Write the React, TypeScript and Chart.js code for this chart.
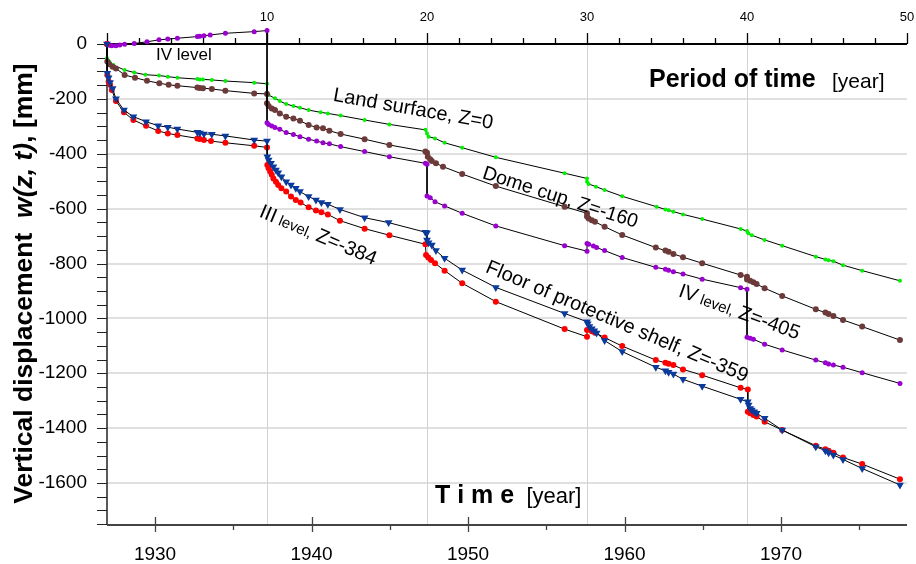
import React, { useEffect, useRef } from 'react';
import { Chart, registerables } from 'chart.js';

Chart.register(...registerables);

const FONT = '"Liberation Sans", Arial, Helvetica, sans-serif';

// ---- Period of time t [year] (top axis) and displacement w [mm] ----
const landT = [0, 0, 0.15, 0.4, 1.1, 1.7, 2.4, 3.25, 3.8, 4.4, 5.65, 5.8, 6.0, 6.55, 7.4, 9.2, 10.0,
  10.0, 10.1, 10.5, 10.8, 11.2, 11.65, 12.06, 12.6, 13.35, 13.8, 14.6, 16.1, 17.65, 19.9,
  20.0, 20.1, 20.5, 21.1, 22.2, 24.3, 28.6, 30.0,
  30.0, 30.1, 30.56, 31.1, 32.2, 34.35, 34.9, 35.1, 35.4, 36.0, 37.2, 39.6, 40.0,
  40.08, 40.3, 41.1, 42.2, 44.3, 44.9, 45.1, 45.4, 46.0, 47.2, 49.56];
const landW = [0, -52, -65, -77, -95, -104, -112, -115, -119, -123, -128, -129, -129, -131, -135, -141, -145,
  -177, -186, -198, -208, -219, -226, -232, -241, -249, -253, -261, -277, -293, -313,
  -326, -338, -344, -360, -378, -413, -471, -490,
  -502, -510, -520, -532, -555, -593, -603, -606, -611, -621, -638, -674, -682,
  -690, -697, -714, -735, -775, -785, -788, -792, -806, -826, -863];

const domeT = [0, 0.02, 0.15, 0.35, 0.56, 1.1, 1.75, 2.5, 3.27, 3.85, 4.4, 5.65, 5.8, 6.0, 6.55, 7.4, 9.2, 10.0,
  10.0, 10.1, 10.3, 10.5, 10.8, 11.2, 11.65, 12.06, 12.6, 13.1, 13.5, 13.9, 14.6, 16.1, 17.65, 19.9, 20.0,
  20.05, 20.2, 20.3, 20.56, 21.0, 22.2, 24.3, 28.6, 30.0,
  30.0, 30.1, 30.3, 30.5, 31.1, 32.2, 34.3, 34.9, 35.1, 35.4, 36.0, 37.2, 39.6, 40.0,
  40.0, 40.2, 40.4, 40.6, 41.1, 42.2, 44.3, 44.9, 45.1, 45.4, 46.0, 47.2, 49.56];
const domeW = [0, -64, -74, -83, -89, -113, -123, -134, -143, -149, -152, -159, -160, -161, -164, -170, -180, -182,
  -216, -226, -235, -241, -253, -265, -272, -280, -295, -304, -307, -316, -328, -347, -368, -392, -396,
  -411, -420, -426, -435, -447, -474, -518, -593, -617,
  -629, -636, -642, -648, -666, -696, -742, -753, -757, -765, -777, -799, -842, -848,
  -858, -863, -868, -875, -890, -918, -967, -979, -984, -991, -1006, -1030, -1079];

const level4T = [0, 0.15, 0.3, 0.56, 0.8, 1.1, 1.7, 2.5, 3.25, 3.8, 4.4, 5.65, 5.8, 6.06, 6.45, 7.4, 9.2, 10.0,
  10.0, 10.1, 10.3, 10.5, 10.8, 11.2, 11.65, 12.06, 12.6, 13.1, 13.5, 13.9, 14.6, 16.1, 17.65, 19.9, 20.0,
  20.0, 20.2, 20.5, 21.1, 22.2, 24.3, 28.6, 30.0,
  30.0, 30.1, 30.4, 30.6, 31.1, 32.2, 34.3, 34.9, 35.1, 35.4, 36.0, 37.2, 39.6, 40.0,
  40.0, 40.2, 40.4, 41.1, 42.2, 44.3, 44.9, 45.1, 45.4, 46.0, 47.2, 49.56];
const level4W = [0, -5, -6, -6, -4, -1, 2, 8, 15, 18, 21, 27, 28, 30, 33, 39, 45, 49,
  -287, -293, -299, -304, -311, -323, -330, -338, -347, -354, -360, -364, -374, -392, -411, -435, -438,
  -554, -560, -575, -590, -617, -663, -735, -755,
  -727, -730, -736, -742, -753, -778, -814, -821, -825, -830, -838, -857, -888, -894,
  -1069, -1072, -1076, -1094, -1115, -1152, -1162, -1166, -1170, -1178, -1198, -1237];

const level3T = [0, 0.02, 0.1, 0.19, 0.3, 0.56, 1.06, 1.65, 2.44, 3.2, 3.8, 4.4, 5.65, 5.8, 6.06, 6.5, 7.4, 9.2, 10.0,
  10.02, 10.1, 10.2, 10.3, 10.4, 10.56, 10.7, 10.9, 11.2, 11.5, 11.8, 12.1, 12.6, 13.06, 13.4, 13.8, 14.56, 16.1, 17.65, 19.9,
  19.94, 20.08, 20.25, 20.5, 21.1, 22.2, 24.3, 28.6, 30.0,
  30.0, 30.3, 30.5, 31.1, 32.2, 34.3, 34.9, 35.1, 35.4, 36.0, 37.2, 39.6, 40.05,
  40.05, 40.2, 40.4, 40.6, 41.1, 42.2, 44.3, 44.9, 45.1, 45.4, 46.0, 47.2, 49.56];
const level3W = [0, -113, -137, -149, -168, -208, -249, -277, -298, -317, -326, -332, -344, -346, -350, -354, -360, -371, -377,
  -441, -453, -465, -477, -490, -502, -514, -526, -538, -556, -569, -578, -595, -607, -613, -621, -644, -673, -697, -730,
  -769, -778, -787, -799, -826, -872, -939, -1039, -1067,
  -1042, -1047, -1052, -1070, -1101, -1152, -1162, -1165, -1170, -1186, -1207, -1253, -1259,
  -1340, -1346, -1352, -1358, -1377, -1407, -1464, -1477, -1482, -1490, -1507, -1531, -1586];

const shelfT = [0, 0.02, 0.1, 0.19, 0.35, 0.56, 1.06, 1.65, 2.44, 3.2, 3.8, 4.4, 5.65, 5.8, 6.06, 6.55, 7.4, 9.2, 10.0,
  10.02, 10.1, 10.25, 10.4, 10.56, 10.7, 10.9, 11.2, 11.5, 11.8, 12.06, 12.6, 13.06, 13.4, 13.8, 14.56, 16.1, 17.6, 19.9, 20.0,
  20.0, 20.1, 20.3, 20.56, 21.1, 22.2, 24.3, 28.6, 30.0,
  30.05, 30.15, 30.3, 30.45, 30.6, 31.1, 32.2, 34.3, 34.9, 35.1, 35.4, 36.0, 37.2, 39.6, 40.05,
  40.1, 40.2, 40.3, 40.45, 40.6, 41.1, 42.2, 44.3, 44.9, 45.1, 45.4, 46.0, 47.2, 49.56];
const shelfW = [0, -107, -123, -140, -162, -200, -241, -265, -283, -298, -303, -310, -322, -324, -328, -329, -335, -350, -354,
  -411, -423, -435, -447, -459, -469, -484, -502, -514, -526, -538, -556, -569, -578, -584, -603, -633, -651, -686, -688,
  -714, -724, -733, -753, -781, -824, -887, -982, -1012,
  -1020, -1030, -1038, -1045, -1053, -1081, -1121, -1178, -1191, -1196, -1203, -1222, -1247, -1295, -1304,
  -1316, -1328, -1334, -1340, -1346, -1364, -1407, -1468, -1482, -1490, -1498, -1514, -1547, -1607];

// ---- axes ----
const yearMin = 1926.93;
const yearMax = 1978.05;
const yearTicks = [1930, 1940, 1950, 1960, 1970];
const periodMin = 0;
const periodMax = 50;
const periodTicks = [10, 20, 30, 40, 50];
const periodGrid = [10, 20, 30, 40];
const wMin = -1753;
const wMax = 69.2;
const wTicks = [0, -200, -400, -600, -800, -1000, -1200, -1400, -1600];

type Part = { text: string; size: number; weight?: string; style?: string };
type Note = { parts: Part[]; t: number; w: number; angle: number };

const notes: Note[] = [
  { parts: [{ text: 'IV level', size: 17 }], t: 3.06, w: -58, angle: 0 },
  { parts: [{ text: 'Land surface, Z=0', size: 20 }], t: 14.1, w: -207, angle: 10 },
  { parts: [{ text: 'Dome cup, Z=-160', size: 19.5 }], t: 23.4, w: -488, angle: 18 },
  { parts: [{ text: 'III', size: 20 }, { text: ' level,', size: 15 }, { text: ' Z=-384', size: 20 }], t: 9.45, w: -628, angle: 23 },
  { parts: [{ text: 'Floor of protective shelf, Z=-359', size: 20 }], t: 23.6, w: -830, angle: 23 },
  { parts: [{ text: 'IV', size: 20 }, { text: ' level,', size: 15 }, { text: ' Z=-405', size: 20 }], t: 35.65, w: -918, angle: 20 },
];

const pts = (t: number[], w: number[]) => t.map((x, i) => ({ x, y: w[i] }));

function fontStr(p: Part) {
  return `${p.style || 'normal'} ${p.weight || 'normal'} ${p.size}px ${FONT}`;
}

function drawParts(ctx: CanvasRenderingContext2D, parts: Part[], x0: number) {
  let x = x0;
  for (const p of parts) {
    ctx.font = fontStr(p);
    ctx.fillText(p.text, x, 0);
    x += ctx.measureText(p.text).width;
  }
}
function partsWidth(ctx: CanvasRenderingContext2D, parts: Part[]) {
  let w = 0;
  for (const p of parts) {
    ctx.font = fontStr(p);
    w += ctx.measureText(p.text).width;
  }
  return w;
}

const noPad = (s: any) => {
  s.paddingLeft = 0;
  s.paddingRight = 0;
  s.paddingTop = 0;
  s.paddingBottom = 0;
};
const fixTicks = (values: number[]) => (s: any) => {
  s.ticks = values.map((value) => ({ value }));
};

const axesPlugin = {
  id: 'customAxes',
  beforeDatasetsDraw(chart: any) {
    const { ctx, chartArea } = chart;
    const { left, right, bottom } = chartArea;
    const xs = chart.scales.x;
    const xb = chart.scales.x2;
    const ys = chart.scales.y;
    const zeroY = Math.round(ys.getPixelForValue(0));
    ctx.save();
    // vertical grid lines at 10..40 of period axis
    ctx.strokeStyle = '#d2d2d2';
    ctx.lineWidth = 1;
    ctx.beginPath();
    for (const t of periodGrid) {
      const px = Math.round(xs.getPixelForValue(t)) + 0.5;
      ctx.moveTo(px, zeroY);
      ctx.lineTo(px, bottom);
    }
    ctx.stroke();
    // left axis + ticks
    ctx.strokeStyle = '#222';
    ctx.lineWidth = 1.5;
    ctx.beginPath();
    ctx.moveTo(left, zeroY);
    ctx.lineTo(left, bottom);
    ctx.stroke();
    ctx.lineWidth = 1.2;
    ctx.beginPath();
    for (let v = 0; v >= wMin; v -= 50) {
      const py = Math.round(ys.getPixelForValue(v)) + 0.5;
      ctx.moveTo(left - 10, py);
      ctx.lineTo(left, py);
    }
    ctx.stroke();
    // bottom axis + ticks
    ctx.strokeStyle = '#444';
    ctx.lineWidth = 2;
    ctx.beginPath();
    ctx.moveTo(left, bottom);
    ctx.lineTo(right, bottom);
    ctx.stroke();
    ctx.lineWidth = 1.3;
    ctx.beginPath();
    for (let yr = 1930; yr <= yearMax; yr += 5) {
      const px = Math.round(xb.getPixelForValue(yr)) + 0.5;
      if (yr % 10 === 0) {
        ctx.moveTo(px, bottom - 8);
        ctx.lineTo(px, bottom + 7);
      } else {
        ctx.moveTo(px, bottom);
        ctx.lineTo(px, bottom + 5);
      }
    }
    ctx.stroke();
    // top (period) axis at w = 0 + ticks
    ctx.strokeStyle = '#000';
    ctx.lineWidth = 2;
    ctx.beginPath();
    ctx.moveTo(left, zeroY);
    ctx.lineTo(right, zeroY);
    ctx.stroke();
    ctx.lineWidth = 1.3;
    ctx.beginPath();
    for (let t = periodMin; t <= periodMax; t += 2) {
      const px = Math.round(xs.getPixelForValue(t)) + 0.5;
      const len = t % 10 === 0 ? 11 : 6;
      ctx.moveTo(px, zeroY - len);
      ctx.lineTo(px, zeroY);
    }
    ctx.stroke();
    ctx.restore();
  },
  afterDraw(chart: any) {
    const { ctx, chartArea } = chart;
    const xs = chart.scales.x;
    const ys = chart.scales.y;
    const zeroY = ys.getPixelForValue(0);
    ctx.save();
    ctx.fillStyle = '#000';
    ctx.textBaseline = 'alphabetic';
    ctx.textAlign = 'left';
    for (const n of notes) {
      ctx.save();
      ctx.translate(xs.getPixelForValue(n.t), ys.getPixelForValue(n.w));
      ctx.rotate((n.angle * Math.PI) / 180);
      drawParts(ctx, n.parts, 0);
      ctx.restore();
    }
    // y-axis title
    const yTitle: Part[] = [
      { text: 'Vertical displacement  ', size: 26.5, weight: 'bold' },
      { text: 'w(z, t)', size: 26.5, weight: 'bold', style: 'italic' },
      { text: ', [mm]', size: 26.5, weight: 'bold' },
    ];
    ctx.save();
    ctx.translate(32, (zeroY + chartArea.bottom) / 2 - 1);
    ctx.rotate(-Math.PI / 2);
    drawParts(ctx, yTitle, -partsWidth(ctx, yTitle) / 2);
    ctx.restore();
    // Period of time title (top right)
    ctx.save();
    ctx.translate(chartArea.right - 258, zeroY + 43);
    drawParts(ctx, [{ text: 'Period of time', size: 25, weight: 'bold' }], 0);
    ctx.restore();
    ctx.save();
    ctx.translate(chartArea.right - 75, zeroY + 44);
    drawParts(ctx, [{ text: '[year]', size: 21 }], 0);
    ctx.restore();
    // Time title (bottom)
    ctx.save();
    ctx.translate(chartArea.left + 328, chartArea.bottom - 22);
    drawParts(ctx, [{ text: 'T i m e', size: 25, weight: 'bold' }, { text: '  [year]', size: 22 }], 0);
    ctx.restore();
    ctx.restore();
  },
};

export default function App() {
  const ref = useRef<HTMLCanvasElement>(null);
  useEffect(() => {
    const common = {
      xAxisID: 'x',
      yAxisID: 'y',
      showLine: true,
      borderColor: '#000',
      borderWidth: 1,
      tension: 0,
      fill: false,
      clip: false as any,
      pointBorderWidth: 0,
    };
    const chart = new Chart(ref.current as HTMLCanvasElement, {
      type: 'scatter',
      data: {
        datasets: [
          { ...common, label: 'Floor of protective shelf, Z=-359', data: pts(shelfT, shelfW), pointStyle: 'triangle', pointRotation: 180, pointRadius: 4.5, pointBackgroundColor: '#0a3a9c', pointBorderColor: '#0a3a9c' },
          { ...common, label: 'III level, Z=-384', data: pts(level3T, level3W), pointStyle: 'circle', pointRadius: 3, pointBackgroundColor: '#ff0000', pointBorderColor: '#ff0000' },
          { ...common, label: 'IV level, Z=-405', data: pts(level4T, level4W), pointStyle: 'circle', pointRadius: 2.5, pointBackgroundColor: '#9a00d0', pointBorderColor: '#9a00d0' },
          { ...common, label: 'Dome cup, Z=-160', data: pts(domeT, domeW), pointStyle: 'circle', pointRadius: 3, pointBackgroundColor: '#6d3a3a', pointBorderColor: '#6d3a3a' },
          { ...common, label: 'Land surface, Z=0', data: pts(landT, landW), pointStyle: 'circle', pointRadius: 2, pointBackgroundColor: '#00f000', pointBorderColor: '#00f000' },
        ] as any,
      },
      options: {
        responsive: false,
        animation: false,
        events: [],
        layout: { padding: { left: 0, right: 9, top: 0, bottom: 0 }, autoPadding: false } as any,
        plugins: { legend: { display: false }, tooltip: { enabled: false } },
        scales: {
          x: {
            type: 'linear',
            position: 'top',
            min: periodMin,
            max: periodMax,
            afterBuildTicks: fixTicks(periodTicks),
            ticks: {
              autoSkip: false,
              maxRotation: 0,
              padding: 0,
              color: '#000',
              font: { family: FONT, size: 13 },
              callback: (v: any) => String(v),
            },
            grid: { display: false, drawTicks: false },
            border: { display: false },
            afterFit: (s: any) => { s.height = 25; noPad(s); },
          },
          x2: {
            type: 'linear',
            position: 'bottom',
            min: yearMin,
            max: yearMax,
            afterBuildTicks: fixTicks(yearTicks),
            ticks: {
              autoSkip: false,
              maxRotation: 0,
              padding: 18,
              color: '#000',
              font: { family: FONT, size: 19 },
              callback: (v: any) => String(v),
            },
            grid: { display: false, drawTicks: false },
            border: { display: false },
            afterFit: (s: any) => { s.height = 39; noPad(s); },
          },
          y: {
            type: 'linear',
            position: 'left',
            min: wMin,
            max: wMax,
            afterBuildTicks: fixTicks(wTicks),
            ticks: {
              autoSkip: false,
              padding: 20,
              color: '#000',
              font: { family: FONT, size: 19 },
              callback: (v: any) => String(v),
            },
            grid: {
              drawTicks: false,
              lineWidth: 2,
              color: (c: any) => (c.tick && c.tick.value >= 0 ? 'rgba(0,0,0,0)' : '#e0e0e0'),
            },
            border: { display: false },
            afterFit: (s: any) => { s.width = 107; noPad(s); },
          },
        } as any,
      },
      plugins: [axesPlugin],
    });
    return () => chart.destroy();
  }, []);
  return (
    <div style={{ position: 'absolute', left: 0, top: 0, width: 916, height: 564, background: '#fff' }}>
      <canvas ref={ref} width={916} height={564} style={{ display: 'block', width: 916, height: 564 }} />
    </div>
  );
}
